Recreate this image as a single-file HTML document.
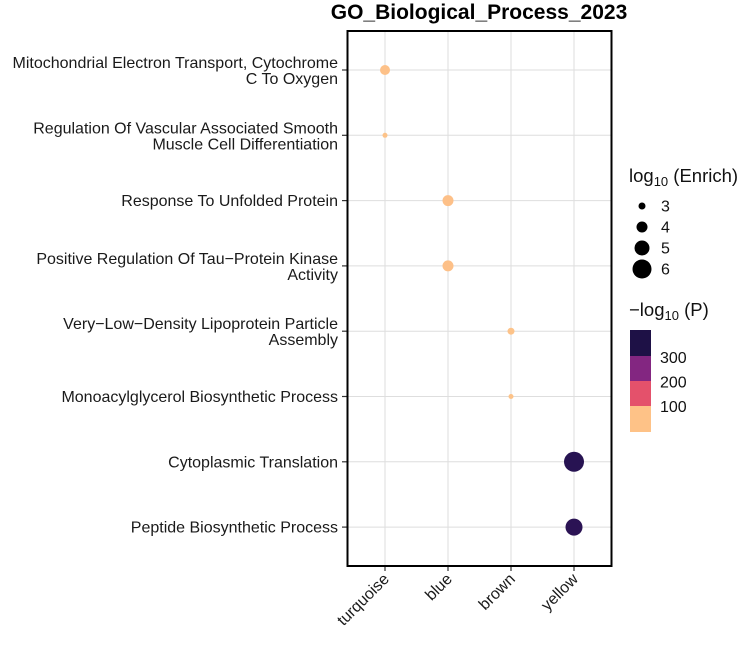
<!DOCTYPE html>
<html><head><meta charset="utf-8"><style>
body{margin:0;background:#fff;}
svg{display:block;font-family:"Liberation Sans",Arial,sans-serif;}
</style></head><body>
<svg id="chart" width="742" height="645">
</svg>
<script>
const categories=["Mitochondrial Electron Transport, Cytochrome|C To Oxygen","Regulation Of Vascular Associated Smooth|Muscle Cell Differentiation","Response To Unfolded Protein","Positive Regulation Of Tau\u2212Protein Kinase|Activity","Very\u2212Low\u2212Density Lipoprotein Particle|Assembly","Monoacylglycerol Biosynthetic Process","Cytoplasmic Translation","Peptide Biosynthetic Process"];
const modules=["turquoise","blue","brown","yellow"];
const pointModule=["turquoise","turquoise","blue","blue","brown","brown","yellow","yellow"];
const enrichValues=[3.75,2.5,4.0,4.0,3.0,2.5,6.25,5.5];
const pValues=[6,3,7,7,4,3,400,395];
const sizeTicks=[3,4,5,6];
const colorTicks=[300,200,100];

const svg=document.getElementById('chart');
const NS='http://www.w3.org/2000/svg';
function mk(tag,attrs,parent){const e=document.createElementNS(NS,tag);for(const k in attrs)e.setAttribute(k,attrs[k]);(parent||svg).appendChild(e);return e;}
const L=347.5,R=611.5,T=31,B=566;
const xs=m=>385+modules.indexOf(m)*63;
const ys=i=>70+i*65.3;
const rs=v=>3.5+(v-3)*2;
const stops=[[254,198,138],[231,81,107],[131,38,129],[32,17,78]];
function col(p){let t=Math.max(0,Math.min(1,p/410))*3;let i=Math.min(2,Math.floor(t)),f=t-i;const a=stops[i],b=stops[i+1];return 'rgb('+a.map((v,k)=>Math.round(v+(b[k]-v)*f)).join(',')+')';}

let e;
e=mk('text',{x:479,y:19,'text-anchor':'middle','font-size':21,'font-weight':'bold'});e.textContent='GO_Biological_Process_2023';

modules.forEach(m=>{e=mk('line',{x1:xs(m),x2:xs(m),y1:T,y2:B,stroke:'#dedede','stroke-width':1});
});
categories.forEach((c,i)=>{e=mk('line',{x1:L,x2:R,y1:ys(i),y2:ys(i),stroke:'#dedede','stroke-width':1});
});
categories.forEach((c,i)=>{const y=ys(i);
mk('line',{x1:342,x2:L,y1:y,y2:y,stroke:'#333','stroke-width':1.2});
const parts=c.split('|');const t=mk('text',{x:338,'text-anchor':'end','font-size':16,fill:'#1a1a1a'});

parts.forEach((p,k)=>{const s=mk('tspan',{x:338,y:(parts.length==1?y+5.5:y-2+k*16)},t);s.textContent=p;});});
modules.forEach(m=>{const x=xs(m);mk('line',{x1:x,x2:x,y1:B,y2:B+5,stroke:'#333','stroke-width':1.2});
const t=mk('text',{x:x+5,y:B+14,'text-anchor':'end','font-size':16,fill:'#1a1a1a',transform:'rotate(-45 '+(x+5)+' '+(B+14)+')'});t.textContent=m;
});
enrichValues.forEach((v,i)=>{e=mk('circle',{cx:xs(pointModule[i]),cy:ys(i),r:rs(v),fill:col(pValues[i])});
});
e=mk('rect',{x:L,y:T,width:R-L,height:B-T,fill:'none',stroke:'#000','stroke-width':2});

e=mk('text',{x:629,y:182,'font-size':18.5,fill:'#111'});e.innerHTML='log<tspan font-size="13" dy="4">10</tspan><tspan dy="-4"> (Enrich)</tspan>';

sizeTicks.forEach((v,k)=>{const y=206+k*21;e=mk('circle',{cx:642,cy:y,r:rs(v),fill:'#000'});

e=mk('text',{x:661,y:y+5.5,'font-size':16,fill:'#111'});e.textContent=v;
});
e=mk('text',{x:629,y:316,'font-size':18.5,fill:'#111'});e.innerHTML='\u2212log<tspan font-size="13" dy="4">10</tspan><tspan dy="-4"> (P)</tspan>';

const cb=[[330,'#1e1146'],[356,'#832681'],[381,'#e4516b'],[406,'#fec287']];
cb.forEach(b=>{e=mk('rect',{x:630,y:b[0],width:21,height:26,fill:b[1]});
});
colorTicks.forEach(v=>{const y=431-v*0.245;e=mk('text',{x:660,y:y+5.5,'font-size':16,fill:'#111'});e.textContent=v;
});
</script>
</body></html>
